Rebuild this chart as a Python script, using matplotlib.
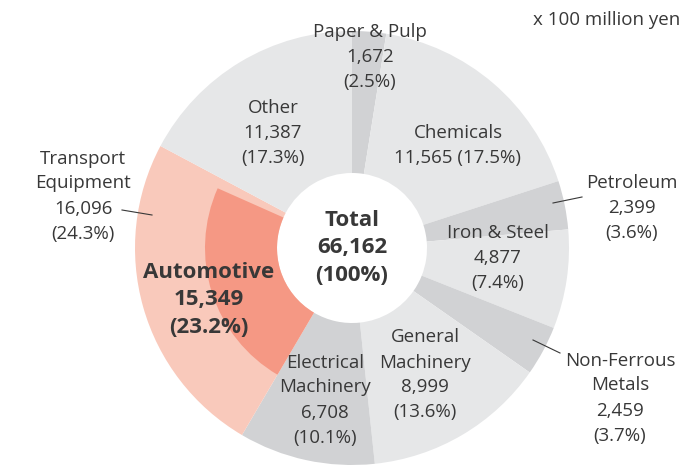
import matplotlib.pyplot as plt

# data (x 100 million yen), clockwise from the top
sectors = ["Paper & Pulp", "Chemicals", "Petroleum", "Iron & Steel",
           "Non-Ferrous Metals", "General Machinery", "Electrical Machinery",
           "Transport Equipment", "Other"]
values = [1672, 11565, 2399, 4877, 2459, 8999, 6708, 16096, 11387]
shares = [2.5, 17.5, 3.6, 7.4, 3.7, 13.6, 10.1, 24.3, 17.3]
automotive = 15349
automotive_share = 23.2
total = 66162

light = "#e6e7e8"
dark = "#d1d2d4"
colors = [dark, light, dark, light, dark, light, dark, "#f9c9bb", light]
auto_color = "#f59884"
text_color = "#383838"

plt.rcParams['font.family'] = ['Open Sans', 'DejaVu Sans']

W, H = 684, 465
fig = plt.figure(figsize=(W / 100, H / 100), dpi=100)
ax = fig.add_axes([0, 0, 1, 1])

cx, cy = 352, H - 248
r_out, r_in, r_auto = 217, 75, 147

ax.pie(values, colors=colors, startangle=90, counterclock=False,
       radius=r_out, center=(cx, cy), frame=True,
       wedgeprops=dict(width=r_out - r_in, linewidth=0))

# automotive part of transport equipment (inner ring)
before = sum(values[:7])
start = 90 - 360 * before / total
ax.pie([automotive, total - automotive], colors=[auto_color, "none"],
       startangle=start, counterclock=False, radius=r_auto,
       center=(cx, cy), frame=True,
       wedgeprops=dict(width=r_auto - r_in, linewidth=0))
ax.set_xlim(0, W)
ax.set_ylim(0, H)
ax.set_aspect('equal')
ax.axis('off')


def label(x, y, s, size=13.5, ls=1.5, **kw):
    ax.text(x, H - y, s, ha='center', va='center', fontsize=size,
            color=text_color, linespacing=ls, **kw)


def fmt(i):
    return f"{values[i]:,}\n({shares[i]}%)"


label(370, 57, "Paper & Pulp\n" + fmt(0))
label(458, 146, f"Chemicals\n{values[1]:,} ({shares[1]}%)")
label(632, 208, "Petroleum\n" + fmt(2))
label(498, 258, "Iron & Steel\n" + fmt(3))
label(620, 398, "Non-Ferrous\nMetals\n" + fmt(4))
label(425, 375, "General\nMachinery\n" + fmt(5))
label(325, 400, "Electrical\nMachinery\n" + fmt(6))
label(83, 196, "Transport\nEquipment\n" + fmt(7))
label(273, 133, "Other\n" + fmt(8))
label(209, 300, f"Automotive\n{automotive:,}\n({automotive_share}%)",
      size=16, ls=1.4, fontweight='bold')
label(cx, 248, f"Total\n{total:,}\n(100%)", size=16, ls=1.4,
      fontweight='bold')

ax.text(680, H - 20, "x 100 million yen", ha='right', va='center',
        fontsize=13.5, color=text_color)

# leader lines
lc = dict(color=text_color, linewidth=0.8)
ax.plot([553, 582], [H - 203, H - 197], **lc)
ax.plot([533, 560], [H - 340, H - 353], **lc)
ax.plot([122, 152], [H - 210, H - 215], **lc)

fig.savefig("out.png", dpi=100)
